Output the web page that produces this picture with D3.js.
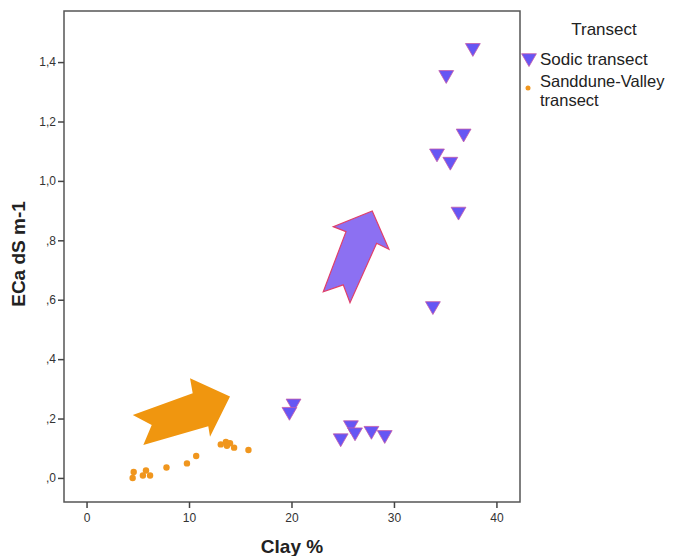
<!DOCTYPE html>
<html>
<head>
<meta charset="utf-8">
<script src="https://cdn.jsdelivr.net/npm/d3@7"></script>
<style>
  body { margin:0; background:#fff; }
  svg { display:block; font-family: Arial, "Liberation Sans", sans-serif; }
</style>
</head>
<body>
<div class="page"></div>
<script>
// Sodic transect points (clay %, ECa)
var sodicClay = [37.7, 35.1, 36.8, 34.2, 35.5, 36.3, 33.8, 20.2, 19.8, 24.8, 25.8, 26.2, 27.8, 29.1];
var sodicECa  = [1.448, 1.357, 1.16, 1.093, 1.065, 0.897, 0.579, 0.251, 0.223, 0.134, 0.178, 0.154, 0.159, 0.145];
// Sanddune-Valley transect points
var sandClay = [4.6, 4.5, 5.8, 5.5, 6.2, 7.8, 9.8, 10.7, 13.1, 13.6, 14.0, 13.7, 14.4, 15.8];
var sandECa  = [0.020, 0.0, 0.025, 0.008, 0.008, 0.035, 0.049, 0.074, 0.113, 0.121, 0.117, 0.108, 0.102, 0.094];

var xTicks = [0, 10, 20, 30, 40];
var yTicks = [0, 0.2, 0.4, 0.6, 0.8, 1.0, 1.2, 1.4];
var yTickLabels = [',0', ',2', ',4', ',6', ',8', '1,0', '1,2', '1,4'];

// annotation arrows, in data units (clay %, ECa)
var orangeArrow = [[4.51,0.212],[6.36,0.178],[5.54,0.111],[11.88,0.174],[12.05,0.139],[14.0,0.274],[10.10,0.336],[10.36,0.285]];
var purpleArrow = [[27.88,0.899],[29.51,0.770],[28.31,0.790],[25.71,0.590],[25.05,0.650],[23.10,0.627],[25.32,0.829],[24.08,0.846]];

var W = 676, H = 556;
var frame = {left:64, top:11, right:520, bottom:502};

var x = d3.scaleLinear().domain([-2.2, 42.3]).range([frame.left, frame.right]);
var y = d3.scaleLinear().domain([-0.081, 1.572]).range([frame.bottom, frame.top]);

var svg = d3.select('.page').append('svg')
  .attr('width', W)
  .attr('height', H);

// frame
svg.append('rect')
  .attr('x', frame.left).attr('y', frame.top)
  .attr('width', frame.right - frame.left)
  .attr('height', frame.bottom - frame.top)
  .attr('fill', 'none')
  .attr('stroke', '#555')
  .attr('stroke-width', 1.5);

var xAxis = d3.axisBottom(x).tickValues(xTicks).tickSize(6).tickPadding(5);
var yAxis = d3.axisLeft(y).tickValues(yTicks).tickSize(6).tickPadding(2)
  .tickFormat(function(d, i) { return yTickLabels[i]; });

var gx = svg.append('g')
  .attr('transform', 'translate(0,' + frame.bottom + ')')
  .call(xAxis);
var gy = svg.append('g')
  .attr('transform', 'translate(' + frame.left + ',0)')
  .call(yAxis);

[gx, gy].forEach(function(g) {
  g.select('.domain').remove();
  g.selectAll('.tick line').attr('stroke', '#444').attr('stroke-width', 1.5);
  g.selectAll('.tick text').attr('fill', '#333').style('font-size', '12px')
    .style('font-family', 'Arial, "Liberation Sans", sans-serif');
});

// axis titles
svg.append('text')
  .text('Clay %')
  .attr('x', 292).attr('y', 553)
  .attr('text-anchor', 'middle')
  .style('font-size', '19px').style('font-weight', 'bold').attr('fill', '#222');

svg.append('text')
  .text('ECa dS m-1')
  .attr('transform', 'translate(25,254) rotate(-90)')
  .attr('text-anchor', 'middle')
  .style('font-size', '19px').style('font-weight', 'bold').attr('fill', '#222');

// arrows
var line = d3.line().x(function(d) { return x(d[0]); }).y(function(d) { return y(d[1]); }).curve(d3.curveLinearClosed);

svg.append('path')
  .attr('d', line(orangeArrow))
  .attr('fill', '#f0960f');

svg.append('path')
  .attr('d', line(purpleArrow))
  .attr('fill', '#8c70f2')
  .attr('stroke', '#e0406a')
  .attr('stroke-width', 1.2)
  .attr('stroke-linejoin', 'miter');

// points
var tri = d3.symbol().type(d3.symbolTriangle).size(95);

svg.append('g').selectAll('circle')
  .data(d3.range(sandClay.length))
  .enter().append('circle')
  .attr('cx', function(i) { return x(sandClay[i]); })
  .attr('cy', function(i) { return y(sandECa[i]); })
  .attr('r', 3.2)
  .attr('fill', '#f0961e');

svg.append('g').selectAll('path')
  .data(d3.range(sodicClay.length))
  .enter().append('path')
  .attr('d', tri)
  .attr('transform', function(i) { return 'translate(' + x(sodicClay[i]) + ',' + y(sodicECa[i]) + ') rotate(180)'; })
  .attr('fill', '#6656f4')
  .attr('stroke', '#c65aa8')
  .attr('stroke-width', 0.8);

// legend
var legend = svg.append('g');
legend.append('text')
  .text('Transect')
  .attr('x', 604).attr('y', 35)
  .attr('text-anchor', 'middle')
  .style('font-size', '17px').attr('fill', '#222');

legend.append('path')
  .attr('d', tri)
  .attr('transform', 'translate(529,58) rotate(180)')
  .attr('fill', '#6656f4')
  .attr('stroke', '#c65aa8')
  .attr('stroke-width', 0.8);
legend.append('text')
  .text('Sodic transect')
  .attr('x', 540).attr('y', 65)
  .style('font-size', '17px').attr('fill', '#222');

legend.append('circle')
  .attr('cx', 528).attr('cy', 88).attr('r', 2.5)
  .attr('fill', '#f0961e');
legend.append('text')
  .attr('x', 540).attr('y', 87)
  .style('font-size', '16.5px').attr('fill', '#222')
  .text('Sanddune-Valley');
legend.append('text')
  .attr('x', 540).attr('y', 106)
  .style('font-size', '16.5px').attr('fill', '#222')
  .text('transect');
</script>
</body>
</html>
